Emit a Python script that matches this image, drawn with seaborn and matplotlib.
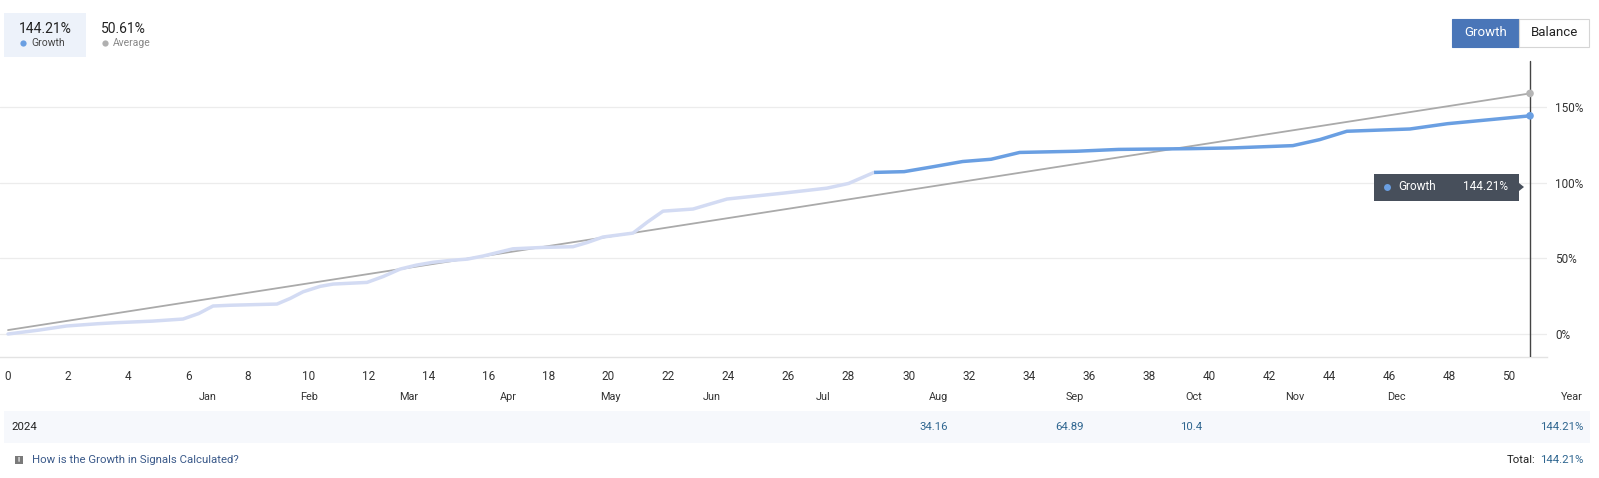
import matplotlib
matplotlib.use("Agg")
import matplotlib.pyplot as plt
from matplotlib.patches import Rectangle, Polygon
from matplotlib.lines import Line2D
import pandas as pd
import seaborn as sns

# ---------------- data ----------------
weeks_past = [0, 1, 1.95, 3, 3.62, 4.8, 5.83, 6.35, 6.83, 7.4, 8.96, 9.4, 9.83, 10.4,
              10.83, 11.96, 12.5, 13.06, 13.6, 14.16, 14.72, 15.3, 15.82, 16.82, 17.8,
              18.82, 19.3, 19.82, 20.82, 21.3, 21.82, 22.82, 23.4, 23.95, 25.82, 27.28,
              28.0, 28.85]
growth_past = [0, 2.5, 5.3, 6.8, 7.5, 8.5, 9.9, 13.5, 18.5, 19.0, 19.8, 23.5, 27.9, 31.5,
               33.0, 34.1, 38.0, 42.9, 45.5, 47.4, 48.6, 49.5, 51.5, 56.3, 57.2,
               57.7, 60.5, 64.1, 66.7, 74.0, 81.2, 82.6, 86.0, 89.2, 93.1, 96.4,
               99.5, 106.8]
weeks_recent = [28.85, 29.85, 30.8, 31.8, 32.75, 33.7, 35.6, 37.0, 39.4, 40.8, 42.8,
                43.7, 44.6, 46.7, 47.95, 49.7, 50.7]
growth_recent = [106.8, 107.3, 110.5, 114.0, 115.5, 120.0, 120.8, 122.0, 122.5, 123.0,
                 124.5, 128.5, 134.0, 135.5, 139.0, 142.3, 144.21]
avg_weeks = [0, 50.7]
avg_values = [2.6, 159.0]
x_ticks = list(range(0, 51, 2))
y_ticks = [0, 50, 100, 150]
y_tick_labels = ["0%", "50%", "100%", "150%"]
months = ["Jan", "Feb", "Mar", "Apr", "May", "Jun", "Jul", "Aug", "Sep", "Oct",
          "Nov", "Dec", "Year"]
year_label = "2024"
month_values = ["", "", "", "", "", "", "", "34.16", "64.89", "10.4", "", "", "144.21%"]
growth_total = "144.21%"
average_total = "50.61%"
growth_name = "Growth"
average_name = "Average"

# ---------------- style ----------------
sns.set_theme(style="white")
plt.rcParams["font.family"] = ["Roboto", "DejaVu Sans"]

W, H = 1599, 478
fig = plt.figure(figsize=(W / 100, H / 100), dpi=100)


def fx(px):
    return px / W


def fy(py):
    return 1 - py / H


def dot(px, py, color, size=5.5, z=11):
    fig.add_artist(Line2D([fx(px)], [fy(py)], marker="o", markersize=size,
                          markerfacecolor=color, markeredgecolor="none",
                          linestyle="none", transform=fig.transFigure, zorder=z))


BLUE = "#6a9fe2"
LAV = "#d3dbf3"
GRAY = "#aaaaaa"
TXT = "#333333"
LINK = "#2f6690"

# ---------------- main axes ----------------
ax = fig.add_axes([0, fy(357), fx(1547), (357 - 55) / H])
ppu = 30.02
ax.set_xlim(-8 / ppu, (1547 - 8) / ppu)
ppp = 1.513
ax.set_ylim(-(357 - 334) / ppp, (334 - 55) / ppp)

df_past = pd.DataFrame({"week": weeks_past, "growth": growth_past})
df_recent = pd.DataFrame({"week": weeks_recent, "growth": growth_recent})
df_avg = pd.DataFrame({"week": avg_weeks, "avg": avg_values})

for y in y_ticks:
    ax.axhline(y, color="#ececec", lw=0.9, zorder=0)

sns.lineplot(data=df_avg, x="week", y="avg", ax=ax, color=GRAY, lw=1.3, zorder=2)
sns.lineplot(data=df_past, x="week", y="growth", ax=ax, color=LAV, lw=2.5, zorder=3,
             solid_joinstyle="round", solid_capstyle="round")
sns.lineplot(data=df_recent, x="week", y="growth", ax=ax, color=BLUE, lw=2.5, zorder=4,
             solid_joinstyle="round", solid_capstyle="butt")

ax.axvline(weeks_recent[-1], ymin=0, ymax=(357 - 61) / (357 - 55), color="#444444",
           lw=1.0, zorder=5)
ax.scatter([avg_weeks[-1]], [avg_values[-1]], s=30, color="#b5b5b5", zorder=6,
           edgecolor="none")
ax.scatter([weeks_recent[-1]], [growth_recent[-1]], s=30, color=BLUE, zorder=6,
           edgecolor="none")

ax.set_xticks(x_ticks)
ax.set_xticklabels([str(t) for t in x_ticks])
ax.set_yticks(y_ticks)
ax.set_yticklabels(y_tick_labels)
ax.yaxis.tick_right()
ax.tick_params(axis="x", length=0, pad=9, labelsize=8.5, labelcolor=TXT)
ax.tick_params(axis="y", length=0, pad=6, labelsize=8.5, labelcolor=TXT)
ax.set_xlabel("")
ax.set_ylabel("")
for s in ["top", "left", "right"]:
    ax.spines[s].set_visible(False)
ax.spines["bottom"].set_color("#e3e3e3")
ax.spines["bottom"].set_linewidth(1.0)
ax.grid(False)

# ---------------- tooltip ----------------
fig.patches.append(Rectangle((fx(1374), fy(200.7)), fx(1519) - fx(1374),
                             fy(174) - fy(200.7), transform=fig.transFigure,
                             facecolor="#474f5b", edgecolor="none", zorder=10))
fig.patches.append(Polygon([(fx(1519), fy(183)), (fx(1524), fy(187)), (fx(1519), fy(191))],
                           closed=True, transform=fig.transFigure,
                           facecolor="#474f5b", edgecolor="none", zorder=10))
dot(1387, 187, BLUE, size=5, z=11)
fig.text(fx(1398), fy(187), growth_name, color="white", fontsize=8.5, va="center",
         ha="left", zorder=12)
fig.text(fx(1508), fy(187), growth_total, color="white", fontsize=8.5, va="center",
         ha="right", zorder=12)

# ---------------- header ----------------
fig.patches.append(Rectangle((fx(4), fy(56.7)), fx(86) - fx(4), fy(12.7) - fy(56.7),
                             transform=fig.transFigure, facecolor="#edf2fa",
                             edgecolor="none", zorder=1))
fig.text(fx(45), fy(29), growth_total, fontsize=10, color="#222222", ha="center",
         va="center")
dot(23, 43.3, BLUE, size=4.5, z=3)
fig.text(fx(31), fy(43), growth_name, fontsize=7.5, color="#444444", ha="left",
         va="center")
fig.text(fx(101), fy(29), average_total, fontsize=10, color="#222222", ha="left",
         va="center")
dot(105, 43.3, "#b0b0b0", size=4.5, z=3)
fig.text(fx(113), fy(43), average_name, fontsize=7.5, color="#888888", ha="left",
         va="center")

# ---------------- buttons ----------------
fig.patches.append(Rectangle((fx(1452), fy(46.7)), fx(1519) - fx(1452), fy(19) - fy(46.7),
                             transform=fig.transFigure, facecolor="#4a76b8",
                             edgecolor="#4a76b8", lw=0.8, zorder=2))
fig.patches.append(Rectangle((fx(1519), fy(46.7)), fx(1589) - fx(1519), fy(19) - fy(46.7),
                             transform=fig.transFigure, facecolor="white",
                             edgecolor="#d5d5d5", lw=0.8, zorder=2))
fig.text(fx(1485.5), fy(33), "Growth", fontsize=9.5, color="white", ha="center",
         va="center", zorder=3)
fig.text(fx(1554), fy(33), "Balance", fontsize=9.5, color="#222222", ha="center",
         va="center", zorder=3)

# ---------------- table ----------------
col_right = [217, 318, 418, 517, 621, 721, 830, 948, 1084, 1202, 1304, 1406, 1583]
for m, xr in zip(months, col_right):
    fig.text(fx(xr), fy(397), m, fontsize=7.8, color=TXT, ha="right", va="center")

fig.patches.append(Rectangle((fx(4), fy(443)), fx(1590) - fx(4), fy(410.7) - fy(443),
                             transform=fig.transFigure, facecolor="#f6f8fc",
                             edgecolor="none", zorder=0))
fig.text(fx(11), fy(427), year_label, fontsize=8.2, color="#222222", ha="left",
         va="center")
for v, xr in zip(month_values, col_right):
    if v:
        fig.text(fx(xr), fy(427), v, fontsize=8.2, color=LINK, ha="right", va="center")

# ---------------- footer ----------------
fig.patches.append(Rectangle((fx(15), fy(464)), fx(23) - fx(15), fy(456) - fy(464),
                             transform=fig.transFigure, facecolor="#7a7a7a",
                             edgecolor="none", zorder=2))
fig.text(fx(19), fy(460), "!", fontsize=5.5, color="white", ha="center", va="center",
         zorder=3, fontweight="bold")
fig.text(fx(32), fy(460), "How is the Growth in Signals Calculated?", fontsize=8.2,
         color="#3b5a8a", ha="left", va="center")
fig.text(fx(1583), fy(460), growth_total, fontsize=8.2, color=LINK, ha="right",
         va="center")
fig.text(fx(1535), fy(460), "Total:", fontsize=8.2, color="#222222", ha="right",
         va="center")

fig.savefig("out.png", dpi=100, facecolor="white")
